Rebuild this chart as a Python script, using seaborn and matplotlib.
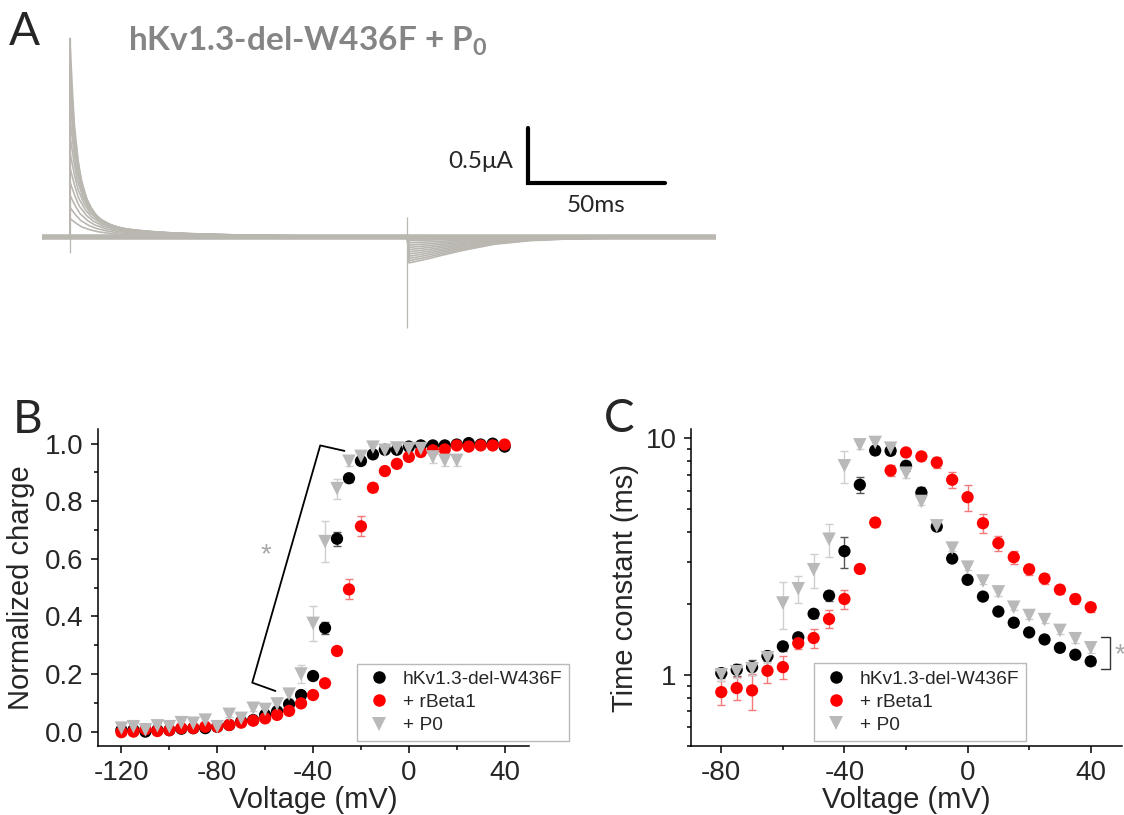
import numpy as np
import pandas as pd
import matplotlib
matplotlib.use('Agg')
import matplotlib.pyplot as plt
import seaborn as sns
from matplotlib.lines import Line2D
from matplotlib.ticker import FixedLocator, FuncFormatter, NullFormatter, LogLocator

# ---- panel A: gating current traces ----
trace_onset_ms = 10.2
trace_off_ms = 133.9
trace_end_ms = 247.0
on_t_ms = [0, 0.5, 1, 1.7, 3, 4.2, 6, 8, 10.3, 14, 19, 28, 37, 60, 90, 123.7]
on_shape = [1.0, 0.86, 0.72, 0.56, 0.39, 0.29, 0.20, 0.14, 0.10, 0.067, 0.045, 0.031, 0.022, 0.011, 0.004, 0.0]
on_peaks_uA = [1.79, 1.6, 1.42, 1.25, 1.08, 0.92, 0.77, 0.63, 0.5, 0.38, 0.27, 0.17]
on_stretch = [1.0, 1.1, 1.2, 1.3, 1.45, 1.6, 1.75, 1.9, 2.05, 2.2, 2.35, 2.5]
off_t_ms = [0, 0.6, 2, 5, 8, 12, 20, 32, 45, 60, 80, 113]
off_shape = [0.0, 1.0, 0.97, 0.9, 0.83, 0.72, 0.52, 0.27, 0.13, 0.06, 0.02, 0.0]
off_peaks_uA = [-0.23, -0.21, -0.19, -0.17, -0.15, -0.13, -0.11, -0.09, -0.07, -0.05, -0.03, -0.015]
cap_on_uA = [-0.14, 1.79]
cap_off_uA = [0.185, -0.816]

# ---- panel B: normalized charge ----
v_b = [-120, -115, -110, -105, -100, -95, -90, -85, -80, -75, -70, -65, -60, -55, -50, -45,
       -40, -35, -30, -25, -20, -15, -10, -5, 0, 5, 10, 15, 20, 25, 30, 35, 40]
black_b = [0.005, 0.005, 0.0, 0.005, 0.005, 0.01, 0.012, 0.012, 0.017, 0.023, 0.035, 0.04, 0.058,
           0.07, 0.095, 0.127, 0.193, 0.36, 0.67, 0.88, 0.94, 0.963, 0.979, 0.979, 0.99, 0.994,
           0.994, 0.994, 0.997, 1.002, 0.997, 1.0, 0.99]
black_b_err = [0.005] * 16 + [0.01, 0.02, 0.025, 0.012, 0.01, 0.008] + [0.006] * 11
red_b = [-0.002, 0.0, 0.008, 0.002, 0.005, 0.012, 0.012, 0.017, 0.017, 0.023, 0.031, 0.038, 0.046,
         0.058, 0.072, 0.098, 0.127, 0.168, 0.28, 0.494, 0.713, 0.847, 0.905, 0.93, 0.954, 0.971,
         0.977, 0.98, 0.994, 0.99, 0.994, 0.994, 0.997]
red_b_err = [0.006] * 18 + [0.012, 0.035, 0.035, 0.015, 0.01, 0.01] + [0.006] * 9
v_b_p0 = v_b[:29]
grey_b = [0.012, 0.017, 0.006, 0.02, 0.017, 0.031, 0.029, 0.04, 0.017, 0.06, 0.046, 0.081, 0.077,
          0.096, 0.13, 0.2, 0.376, 0.66, 0.844, 0.939, 0.956, 0.988, 0.977, 0.985, 0.983, 0.983,
          0.954, 0.942, 0.942]
grey_b_err = [0.01] * 13 + [0.02, 0.015, 0.03, 0.06, 0.07, 0.035, 0.015, 0.01, 0.01, 0.01, 0.01,
                            0.01, 0.01, 0.02, 0.02, 0.02]

# ---- panel C: time constants ----
v_c = [-80, -75, -70, -65, -60, -55, -50, -45, -40, -35, -30, -25, -20, -15, -10, -5,
       0, 5, 10, 15, 20, 25, 30, 35, 40]
black_c = [1.016, 1.05, 1.077, 1.20, 1.318, 1.44, 1.81, 2.16, 3.33, 6.35, 8.87, 8.84, 7.64, 5.89,
           4.23, 3.10, 2.52, 2.14, 1.85, 1.66, 1.51, 1.41, 1.30, 1.215, 1.14]
black_c_err = [0.05, 0.06, 0.08, 0.06, 0.06, 0.06, 0.07, 0.1, 0.5, 0.5, 0.3, 0.3, 0.4, 0.3, 0.15,
               0.08, 0.06, 0.05, 0.05, 0.04, 0.04, 0.04, 0.04, 0.04, 0.04]
red_c = [0.845, 0.879, 0.859, 1.04, 1.077, 1.36, 1.43, 1.72, 2.09, 2.80, 4.40, 7.30, 8.70, 8.37,
         7.89, 6.67, 5.63, 4.37, 3.60, 3.14, 2.79, 2.55, 2.29, 2.09, 1.93]
red_c_err = [0.1, 0.1, 0.15, 0.12, 0.12, 0.08, 0.13, 0.15, 0.2, 0.1, 0.2, 0.4, 0.3, 0.3, 0.4, 0.5,
             0.7, 0.4, 0.25, 0.2, 0.15, 0.12, 0.1, 0.1, 0.08]
grey_c = [1.0, 1.03, 1.06, 1.18, 2.01, 2.31, 2.78, 3.74, 7.64, 9.37, 9.59, 9.07, 7.11, 5.40, 4.26,
          3.43, 2.85, 2.49, 2.24, 1.93, 1.78, 1.71, 1.54, 1.42, 1.30]
grey_c_err = [0.06, 0.06, 0.06, 0.06, 0.45, 0.3, 0.45, 0.6, 1.2, 0.4, 0.3, 0.3, 0.3, 0.2, 0.15,
              0.1, 0.08, 0.08, 0.08, 0.06, 0.06, 0.06, 0.06, 0.06, 0.06]

groups = ['hKv1.3-del-W436F', '+ rBeta1', '+ P0']
colors = {'hKv1.3-del-W436F': '#000000', '+ rBeta1': '#ff0000', '+ P0': '#b9b9b9'}
err_colors = {'hKv1.3-del-W436F': '#555555', '+ rBeta1': '#f27a7a', '+ P0': '#cfcfcf'}
markers = {'hKv1.3-del-W436F': 'o', '+ rBeta1': 'o', '+ P0': 'v'}
sizes = {'hKv1.3-del-W436F': 78, '+ rBeta1': 78, '+ P0': 95}

sns.set_theme(style='ticks')
plt.rcParams['font.family'] = ['Liberation Sans', 'DejaVu Sans']
plt.rcParams['axes.unicode_minus'] = False
plt.rcParams['mathtext.fontset'] = 'custom'
plt.rcParams['mathtext.rm'] = 'Lato'
plt.rcParams['mathtext.bf'] = 'Lato:bold'

fig = plt.figure(figsize=(11.24, 8.15), dpi=100)

# ---------------- panel A ----------------
axA = fig.add_axes([42 / 1124, 1 - 340 / 815, 674 / 1124, 320 / 815])
trace_col = '#b9b7b0'
axA.plot([0, trace_end_ms], [0, 0], color=trace_col, lw=4, solid_capstyle='butt', zorder=1)
for k in range(len(on_peaks_uA)):
    t_on = np.minimum(trace_onset_ms + np.array(on_t_ms) * on_stretch[k], trace_off_ms)
    i_on = on_peaks_uA[k] * np.array(on_shape)
    t_off = trace_off_ms + np.array(off_t_ms)
    i_off = off_peaks_uA[k] * np.array(off_shape)
    t = np.concatenate([[0, trace_onset_ms], t_on, t_off])
    i = np.concatenate([[0, 0], i_on, i_off])
    sns.lineplot(x=t, y=i, ax=axA, color=trace_col, lw=1.2, sort=False, estimator=None, zorder=2)
axA.vlines([trace_onset_ms], cap_on_uA[0], cap_on_uA[1], color=trace_col, lw=0.9)
axA.vlines([trace_off_ms], cap_off_uA[1], cap_off_uA[0], color=trace_col, lw=0.9)
# scale bar
axA.plot([178.2, 178.2, 228.2], [0.986, 0.486, 0.486], color='black', lw=3, solid_joinstyle='miter')
axA.text(172.7, 0.686, '0.5μA', ha='right', va='center', fontsize=17.5, family='Lato')
axA.text(203.2, 0.29, '50ms', ha='center', va='center', fontsize=17.5, family='Lato')
axA.set_xlim(0, trace_end_ms)
axA.set_ylim(-(340 - 237.3) / 111.2, (237.3 - 20) / 111.2)
axA.axis('off')

fig.text(128 / 1124, 1 - 50 / 815, r'hKv1.3-del-W436F + P$_\mathbf{0}$', fontsize=24,
         family='Lato', weight='bold', color='#858585', va='baseline')
for lab, xpx, ypx in [('A', 9, 45), ('B', 13, 432.7), ('C', 604, 432)]:
    fig.text(xpx / 1124, 1 - ypx / 815, lab, fontsize=33, family='Lato', va='baseline')


def long_frame(xs, ys, errs, names):
    parts = []
    for x, y, e, n in zip(xs, ys, errs, names):
        parts.append(pd.DataFrame({'V': x, 'val': y, 'err': e, 'group': n}))
    return pd.concat(parts, ignore_index=True)


def style_axes(ax):
    for s in ['top', 'right']:
        ax.spines[s].set_visible(False)
    for s in ['left', 'bottom']:
        ax.spines[s].set_linewidth(1.1)
        ax.spines[s].set_color('black')
    ax.tick_params(which='major', direction='out', length=5, width=1.1, labelsize=20,
                   color='black', pad=5)
    ax.tick_params(which='minor', direction='out', length=2.8, width=1.1, color='black')


def draw_points(ax, df):
    for n in groups:
        d = df[df['group'] == n]
        ax.errorbar(d['V'], d['val'], yerr=d['err'], fmt='none', ecolor=err_colors[n],
                    elinewidth=1, capsize=3, capthick=1, zorder=1)
    sns.scatterplot(data=df, x='V', y='val', hue='group', style='group', size='group',
                    palette=colors, markers=markers, sizes=sizes, linewidth=0,
                    legend=False, ax=ax, zorder=3)


def add_legend(ax, x0, y0):
    handles = [Line2D([], [], ls='none', marker=markers[n], color=colors[n],
                      markersize=9 if n != '+ P0' else 10, markeredgewidth=0) for n in groups]
    leg = ax.legend(handles, groups, loc='lower left', bbox_to_anchor=(x0, y0), borderaxespad=0,
                    fontsize=13.8, frameon=True, fancybox=False, edgecolor='#a8a8a8',
                    borderpad=0.35, labelspacing=0.3, handlelength=1.6, handletextpad=0.45)
    leg.get_frame().set_linewidth(1.0)
    leg.set_zorder(5)


# ---------------- panel B ----------------
axB = fig.add_axes([97.5 / 1124, 69 / 815, 431.1 / 1124, 316.7 / 815])
dfB = long_frame([v_b, v_b, v_b_p0], [black_b, red_b, grey_b],
                 [black_b_err, red_b_err, grey_b_err], groups)
draw_points(axB, dfB)
axB.plot([-26.9, -37, -65.4, -55.7], [0.975, 0.994, 0.17, 0.141], color='black', lw=1.3, zorder=2)
axB.text(-59.7, 0.613, '*', color='#a8a8a8', fontsize=20, ha='center', va='center')
axB.set_xlim(-130, 50)
axB.set_ylim(-0.05, 1.05)
axB.xaxis.set_major_locator(FixedLocator([-120, -80, -40, 0, 40]))
axB.xaxis.set_minor_locator(FixedLocator([-100, -60, -20, 20]))
axB.yaxis.set_major_locator(FixedLocator([0, 0.2, 0.4, 0.6, 0.8, 1.0]))
axB.yaxis.set_minor_locator(FixedLocator([0.1, 0.3, 0.5, 0.7, 0.9]))
axB.yaxis.set_major_formatter(FuncFormatter(lambda v, p: f'{v:.1f}'))
style_axes(axB)
axB.set_xlabel('Voltage (mV)', fontsize=21, labelpad=0)
axB.set_ylabel('Normalized charge', fontsize=21, labelpad=7)
add_legend(axB, 0.602, 0.016)

# ---------------- panel C ----------------
axC = fig.add_axes([690.5 / 1124, 69 / 815, 431 / 1124, 316.7 / 815])
dfC = long_frame([v_c, v_c, v_c], [black_c, red_c, grey_c],
                 [black_c_err, red_c_err, grey_c_err], groups)
draw_points(axC, dfC)
axC.set_yscale('log')
axC.set_xlim(-90, 50)
axC.set_ylim(0.5, 10.9)
axC.xaxis.set_major_locator(FixedLocator([-80, -40, 0, 40]))
axC.xaxis.set_minor_locator(FixedLocator([-60, -20, 20]))
axC.yaxis.set_major_locator(FixedLocator([1, 10]))
axC.yaxis.set_minor_locator(LogLocator(base=10, subs=np.arange(2, 10)))
axC.yaxis.set_major_formatter(FuncFormatter(lambda v, p: f'{v:g}'))
axC.yaxis.set_minor_formatter(NullFormatter())
style_axes(axC)
axC.set_xlabel('Voltage (mV)', fontsize=21, labelpad=0)
axC.set_ylabel('Time constant (ms)', fontsize=21, labelpad=5)
axC.plot([43.3, 46.4, 46.4, 43.3], [1.44, 1.44, 1.057, 1.057], color='#333333', lw=1.0,
         clip_on=False)
axC.text(49.6, 1.215, '*', color='#a8a8a8', fontsize=20, ha='center', va='center', clip_on=False)
add_legend(axC, 0.286, 0.017)

fig.savefig('out.png', dpi=100)
